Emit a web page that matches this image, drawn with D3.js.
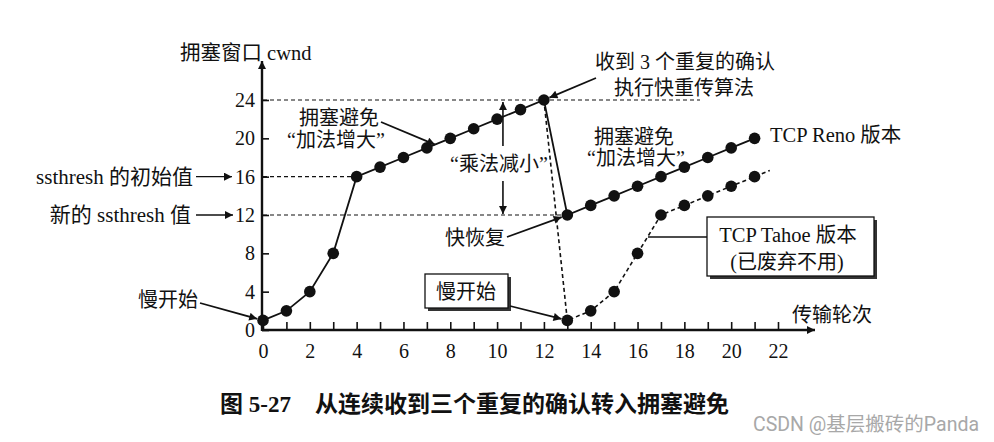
<!DOCTYPE html>
<html>
<head>
<meta charset="utf-8">
<script src="https://cdn.jsdelivr.net/npm/d3@7"></script>
<style>
  body { margin: 0; background: #fff; }
  svg text { font-family: "Liberation Serif", "Noto Sans CJK SC", serif; fill: #111; }
</style>
</head>
<body>
<div id="chart"></div>
<script>
// data
const renoRounds = d3.range(0, 22);
const renoCwnd = [1, 2, 4, 8, 16, 17, 18, 19, 20, 21, 22, 23, 24, 12, 13, 14, 15, 16, 17, 18, 19, 20];
const tahoeRounds = [12, 13, 14, 15, 16, 17, 18, 19, 20, 21];
const tahoeCwnd = [24, 1, 2, 4, 8, 12, 13, 14, 15, 16];
const xTicks = d3.range(0, 23);
const yTicks = [0, 4, 8, 12, 16, 20, 24];
const ssthreshInit = 16;
const ssthreshNew = 12;
const cwndMax = 24;

const W = 994, H = 442;
const x = d3.scaleLinear().domain([0, 22]).range([263, 778]);
const y = d3.scaleLinear().domain([0, 24]).range([330, 100]);

const svg = d3.select("#chart").append("svg")
    .attr("width", W).attr("height", H)
    .style("display", "block");

svg.append("rect").attr("width", W).attr("height", H).attr("fill", "#fff");

// arrowhead
svg.append("defs").append("marker")
    .attr("id", "arr")
    .attr("markerUnits", "userSpaceOnUse")
    .attr("viewBox", "0 0 10 10")
    .attr("refX", 10).attr("refY", 5)
    .attr("markerWidth", 11).attr("markerHeight", 8)
    .attr("orient", "auto-start-reverse")
    .append("path").attr("d", "M0,0 L10,5 L0,10 Z").attr("fill", "#111");

const ink = "#111";

// axes
const xAxis = d3.axisBottom(x)
    .tickValues(xTicks)
    .tickSize(-8)
    .tickPadding(14)
    .tickFormat(d => d % 2 === 0 ? d : "");
const gx = svg.append("g").attr("transform", `translate(0,${y(0)})`).call(xAxis);
gx.select(".domain").remove();
gx.selectAll("line").attr("stroke", ink).attr("stroke-width", 1.6);
gx.selectAll("text").attr("font-size", 20).style("fill", ink);

const yAxis = d3.axisLeft(y)
    .tickValues(yTicks)
    .tickSize(-7)
    .tickPadding(7);
const gy = svg.append("g").attr("transform", `translate(${x(0) - 1},0)`).call(yAxis);
gy.select(".domain").remove();
gy.selectAll("line").attr("stroke", ink).attr("stroke-width", 1.6);
gy.selectAll("text").attr("font-size", 20).style("fill", ink);

svg.append("line")
    .attr("x1", x(0) - 1).attr("y1", y(0))
    .attr("x2", 815).attr("y2", y(0))
    .attr("stroke", ink).attr("stroke-width", 2.4)
    .attr("marker-end", "url(#arr)");
svg.append("line")
    .attr("x1", x(0) - 1).attr("y1", y(0) + 1)
    .attr("x2", x(0) - 1).attr("y2", 61)
    .attr("stroke", ink).attr("stroke-width", 2.4)
    .attr("marker-end", "url(#arr)");

svg.append("text").attr("x", 180).attr("y", 53)
    .attr("dominant-baseline", "central").attr("font-size", 20.5)
    .text("拥塞窗口 cwnd");
svg.append("text").attr("x", 792).attr("y", 315)
    .attr("dominant-baseline", "central").attr("font-size", 20)
    .text("传输轮次");

// dashed guide lines
const guide = (v, xEnd) => svg.append("line")
    .attr("x1", x(0)).attr("y1", y(v))
    .attr("x2", xEnd).attr("y2", y(v))
    .attr("stroke", ink).attr("stroke-width", 1.2)
    .attr("stroke-dasharray", "4,3");
guide(cwndMax, 700);
guide(ssthreshInit, x(4));
guide(ssthreshNew, x(13));

// Tahoe dashed line
const tahoePts = tahoeRounds.map((r, i) => [r, tahoeCwnd[i]]);
const last = tahoePts[tahoePts.length - 1], prev = tahoePts[tahoePts.length - 2];
const tail = [last[0] + 0.65 * (last[0] - prev[0]), last[1] + 0.65 * (last[1] - prev[1])];
const line = d3.line().x(d => x(d[0])).y(d => y(d[1]));
svg.append("path")
    .attr("d", line(tahoePts.concat([tail])))
    .attr("fill", "none").attr("stroke", ink)
    .attr("stroke-width", 1.6).attr("stroke-dasharray", "4,3");

// Reno solid line
const renoPts = renoRounds.map((r, i) => [r, renoCwnd[i]]);
svg.append("path")
    .attr("d", line(renoPts))
    .attr("fill", "none").attr("stroke", ink).attr("stroke-width", 1.8);

svg.append("g").selectAll("circle")
    .data(renoPts.concat(tahoePts.slice(1)))
    .join("circle")
    .attr("cx", d => x(d[0])).attr("cy", d => y(d[1]))
    .attr("r", 5.8).attr("fill", ink);

// helpers
function label(txt, px, py, size, anchor) {
    return svg.append("text").attr("x", px).attr("y", py)
        .attr("text-anchor", anchor || "middle")
        .attr("dominant-baseline", "central")
        .attr("font-size", size || 20).text(txt);
}
function arrow(x1, y1, x2, y2, w) {
    return svg.append("line")
        .attr("x1", x1).attr("y1", y1).attr("x2", x2).attr("y2", y2)
        .attr("stroke", ink).attr("stroke-width", w || 1.8)
        .attr("marker-end", "url(#arr)");
}
function arrowToPoint(x1, y1, r, c, gap) {
    const tx = x(r), ty = y(c);
    const dx = tx - x1, dy = ty - y1, len = Math.hypot(dx, dy);
    return arrow(x1, y1, tx - dx / len * gap, ty - dy / len * gap);
}

// left side labels
label("ssthresh 的初始值", 193, y(ssthreshInit), 21, "end");
arrow(196, y(ssthreshInit), 232, y(ssthreshInit), 1.4);
label("新的 ssthresh 值", 191, y(ssthreshNew), 21, "end");
arrow(196, y(ssthreshNew), 233, y(ssthreshNew), 1.4);

label("慢开始", 168, 300);
arrowToPoint(200, 303, 0, 1, 6);

// congestion avoidance (left)
label("拥塞避免", 339, 118);
label("“加法增大”", 336, 140);
arrow(381, 122, x(7.35), y(19.35));

// multiplicative decrease
const xm = x(10.25);
arrow(xm, 146, xm, y(cwndMax) + 2, 1.6);
arrow(xm, 181, xm, y(ssthreshNew) - 1, 1.6);
label("“乘法减小”", 499, 164);

// fast retransmit
label("收到 3 个重复的确认", 685, 62);
label("执行快重传算法", 684, 88);
arrowToPoint(596, 78, 12, 24, 6);

// congestion avoidance (right)
label("拥塞避免", 634, 137);
label("“加法增大”", 636, 158);
label("TCP Reno 版本", 770, 135, 20.5, "start");

// fast recovery
label("快恢复", 475, 238);
arrowToPoint(507, 237, 13, 12, 6);

// boxed slow start
svg.append("rect").attr("x", 428).attr("y", 277).attr("width", 83).attr("height", 34).attr("fill", "#333");
svg.append("rect").attr("x", 425).attr("y", 274).attr("width", 83).attr("height", 34)
    .attr("fill", "#fff").attr("stroke", ink).attr("stroke-width", 1.3);
label("慢开始", 466, 292);
arrowToPoint(510, 306, 13, 1, 6);

// Tahoe box
svg.append("line").attr("x1", 648).attr("y1", 237).attr("x2", 707).attr("y2", 237)
    .attr("stroke", ink).attr("stroke-width", 1.3);
svg.append("rect").attr("x", 710).attr("y", 220).attr("width", 167).attr("height", 59).attr("fill", "#333");
svg.append("rect").attr("x", 707).attr("y", 217).attr("width", 167).attr("height", 59)
    .attr("fill", "#fff").attr("stroke", ink).attr("stroke-width", 1.3);
label("TCP Tahoe 版本", 788, 235, 20.5);
label("(已废弃不用)", 787, 262);

// caption and watermark
svg.append("text").attr("x", 220).attr("y", 404)
    .attr("dominant-baseline", "central").attr("font-size", 23)
    .attr("font-weight", "bold").text("图 5-27");
svg.append("text").attr("x", 315).attr("y", 404)
    .attr("dominant-baseline", "central").attr("font-size", 23)
    .attr("font-weight", "bold").text("从连续收到三个重复的确认转入拥塞避免");
svg.append("text").attr("x", 753).attr("y", 424)
    .attr("dominant-baseline", "central").attr("font-size", 19.5)
    .style("font-family", "Roboto, 'Noto Sans CJK SC', sans-serif")
    .style("fill", "#a8a8a8")
    .text("CSDN @基层搬砖的Panda");
</script>
</body>
</html>
